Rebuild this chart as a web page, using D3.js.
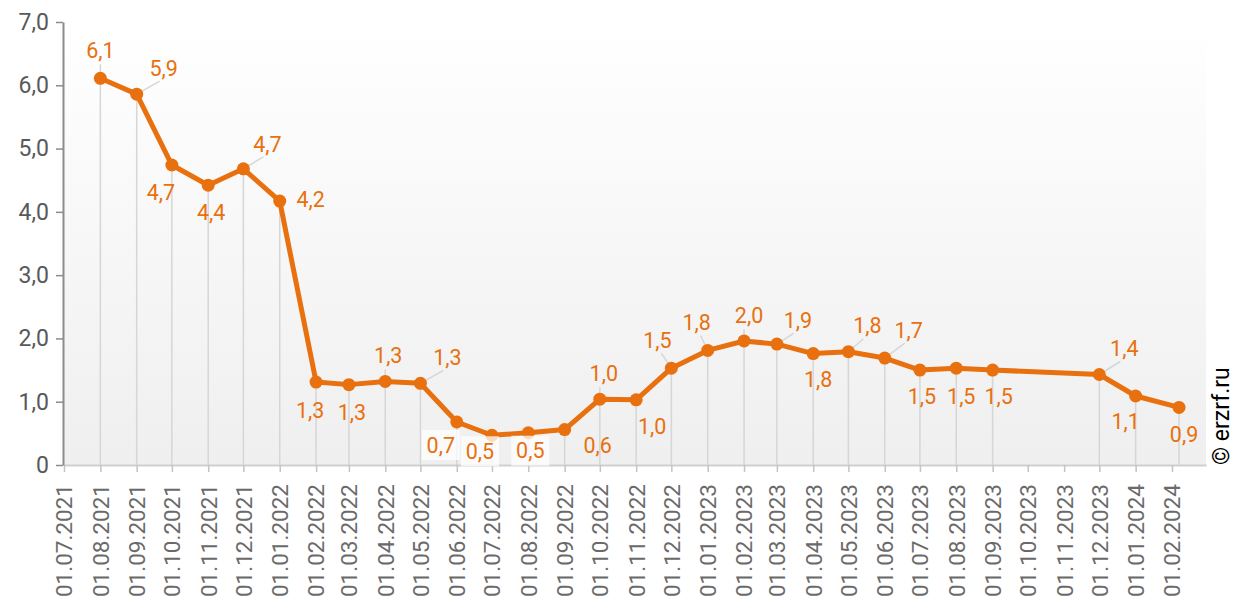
<!DOCTYPE html>
<html>
<head>
<meta charset="utf-8">
<script src="https://cdn.jsdelivr.net/npm/d3@7"></script>
<style>
  body { margin: 0; background: #fff; }
  text { font-family: Roboto, "Noto Sans", sans-serif; }
</style>
</head>
<body>
<div id="chart"></div>
<script>
// data
const pointDates = ["2021-08-01","2021-09-01","2021-10-01","2021-11-01","2021-12-01","2022-01-01",
  "2022-02-01","2022-03-01","2022-04-01","2022-05-01","2022-06-01","2022-07-01","2022-08-01",
  "2022-09-01","2022-10-01","2022-11-01","2022-12-01","2023-01-01","2023-02-01","2023-03-01",
  "2023-04-01","2023-05-01","2023-06-01","2023-07-01","2023-08-01","2023-09-01","2023-12-01",
  "2024-01-01","2024-02-07"];
const pointValues = [6.11, 5.86, 4.74, 4.42, 4.68, 4.17,
  1.31, 1.27, 1.32, 1.29, 0.68, 0.47, 0.51,
  0.56, 1.04, 1.03, 1.53, 1.81, 1.96, 1.91,
  1.76, 1.79, 1.69, 1.50, 1.53, 1.50, 1.43,
  1.09, 0.91];
const tickStart = "2021-07-01", tickEnd = "2024-02-01";
const yTicks = [0, 1, 2, 3, 4, 5, 6, 7];

// label placement: [dx, dy, leader type] ("v" vertical, "d" diagonal, "" none, "w" white box)
const labelPlace = [[0,-28,"v"],[27,-26,"d"],[-11,27,""],[3,27,""],[24,-25,"d"],[31,-2,""],
  [-6,28,""],[3,28,""],[3,-26,"v"],[27,-26,"d"],[-16,23,"w"],[-12,16,"w"],[2,18,"w"],
  [33,16,""],[4,-26,"v"],[16,26,""],[-14,-28,"d"],[-11,-28,"d"],[5,-26,"v"],[21,-24,"d"],
  [5,26,""],[19,-26,"d"],[24,-28,"d"],[2,26,""],[5,28,""],[6,26,""],[25,-26,"d"],
  [-10,25,""],[5,27,""]];

const W = 1242, H = 601;
const parse = d3.timeParse("%Y-%m-%d");
const data = pointDates.map((d, i) => ({date: parse(d), value: pointValues[i], place: labelPlace[i]}));

const svg = d3.select("#chart").append("svg").attr("width", W).attr("height", H);

const x = d3.scaleTime().domain([parse("2021-07-01"), parse("2024-03-01")]).range([64, 1206]);
const y = d3.scaleLinear().domain([0, 7]).range([465, 22]);

const orange = "#E8700E";
const fmt = v => v === 0 ? "0" : d3.format(".1f")(v).replace(".", ",");

// background gradient
const grad = svg.append("defs").append("linearGradient").attr("id", "bg")
  .attr("x1", 0).attr("y1", 0).attr("x2", 0).attr("y2", 1);
grad.append("stop").attr("offset", "0%").attr("stop-color", "#ffffff");
grad.append("stop").attr("offset", "100%").attr("stop-color", "#efefef");
svg.append("rect").attr("x", x.range()[0]).attr("y", y(7))
  .attr("width", x.range()[1] - x.range()[0]).attr("height", y(0) - y(7))
  .attr("fill", "url(#bg)");

// drop lines
svg.append("g").selectAll("line").data(data).join("line")
  .attr("x1", d => x(d.date)).attr("x2", d => x(d.date))
  .attr("y1", y(0))
  .attr("y2", d => d.place[2] === "v" ? y(d.value) + d.place[1] + 14 : y(d.value))
  .attr("stroke", "#d6d6d6").attr("stroke-width", 1.5);

// diagonal leaders
svg.append("g").selectAll("line").data(data.filter(d => d.place[2] === "d")).join("line")
  .attr("x1", d => x(d.date)).attr("y1", d => y(d.value))
  .attr("x2", d => x(d.date) + d.place[0] - 4 * Math.sign(d.place[0]))
  .attr("y2", d => y(d.value) + d.place[1] + 13)
  .attr("stroke", "#d6d6d6").attr("stroke-width", 1.5);

// x axis
const months = d3.timeMonth.range(parse(tickStart), d3.timeMonth.offset(parse(tickEnd), 1));
const xAxis = svg.append("g").attr("transform", `translate(0,${y(0)})`)
  .call(d3.axisBottom(x).tickValues(months).tickFormat(d3.timeFormat("%d.%m.%Y")).tickSize(7).tickSizeOuter(0));
xAxis.select(".domain").attr("stroke", "#d0d0d0").attr("stroke-width", 2);
xAxis.selectAll(".tick line").attr("stroke", "#c4c4c4").attr("stroke-width", 1.5);
xAxis.selectAll(".tick text")
  .attr("font-size", "22.5px").attr("fill", "#6a6a6a")
  .attr("text-anchor", "end").attr("transform", "rotate(-90)")
  .attr("x", -19).attr("y", 0).attr("dy", "0.35em");

// y axis
const yAxis = svg.append("g").attr("transform", `translate(${x.range()[0] - 1},0)`)
  .call(d3.axisLeft(y).tickValues(yTicks).tickFormat(fmt).tickSize(7).tickSizeOuter(0));
yAxis.select(".domain").attr("stroke", "#8c8c8c").attr("stroke-width", 2);
yAxis.selectAll(".tick line").attr("stroke", "#8c8c8c").attr("stroke-width", 1.5);
yAxis.selectAll(".tick text").attr("font-size", "23px").attr("fill", "#595959").attr("x", -14);

// line
svg.append("path").datum(data)
  .attr("fill", "none").attr("stroke", orange).attr("stroke-width", 5).attr("stroke-linejoin", "round")
  .attr("d", d3.line().x(d => x(d.date)).y(d => y(d.value)));

svg.append("g").selectAll("circle").data(data).join("circle")
  .attr("cx", d => x(d.date)).attr("cy", d => y(d.value)).attr("r", 6.5)
  .attr("fill", orange);

// labels
const lab = svg.append("g").selectAll("g").data(data).join("g")
  .attr("transform", d => `translate(${x(d.date) + d.place[0]},${y(d.value) + d.place[1]})`);
lab.filter(d => d.place[2] === "w").append("rect")
  .attr("x", -19).attr("y", -15).attr("width", 38).attr("height", 30)
  .attr("fill", "#fff").attr("opacity", 0.75);
lab.append("text")
  .attr("text-anchor", "middle").attr("dy", "0.36em")
  .attr("font-size", "21.5px").attr("fill", orange)
  .text(d => fmt(d.value));

// copyright
svg.append("text")
  .attr("transform", "translate(1229,465) rotate(-90)")
  .attr("font-size", "23px").attr("fill", "#000")
  .text("© erzrf.ru");
</script>
</body>
</html>
